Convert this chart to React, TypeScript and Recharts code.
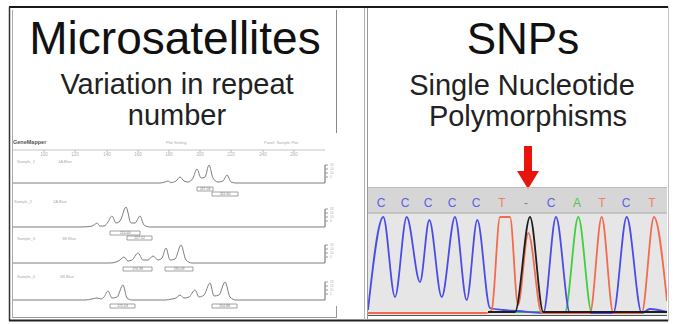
import React from 'react';
import { LineChart, Line, XAxis, YAxis, ReferenceArea, ReferenceLine, ReferenceDot } from 'recharts';

const FONT = '"Liberation Sans", Arial, sans-serif';

// ---------- Microsatellites (electropherogram traces) ----------
// x: scan position along the sizing axis, y: signal height
const sizeTicks = [31, 62, 94, 125, 156, 187, 218, 250, 281];
const sizeTickLabels = ['100', '120', '140', '160', '180', '200', '220', '240', '260'];

const trace1Pts = [
  [0, 0], [147, 0], [152, 1], [155, 2], [158, 0.5], [163, 2], [167, 6], [171, 2], [175, 1], [180, 5],
  [184, 14], [188, 5], [192, 6], [196, 18], [200, 5], [205, 1], [210, 2], [214, 8], [218, 1], [223, 0], [312, 0],
];
const trace2Pts = [
  [0, 0], [67, 0], [77, 0.5], [81, 2], [84, 4], [87, 1], [91, 1], [95, 5], [99, 11], [103, 4], [107, 6],
  [113, 20], [118, 4], [122, 4], [127, 11], [131, 2], [137, 0], [312, 0],
];
const trace3Pts = [
  [0, 0], [97, 0], [103, 1], [107, 3], [111, 6], [115, 2], [119, 3], [125, 10], [130, 3], [135, 3], [140, 7],
  [145, 3], [149, 5], [153, 15], [157, 3], [162, 4], [168, 18], [173, 3], [179, 0], [312, 0],
];
const trace4Pts = [
  [0, 0], [72, 0], [79, 1], [84, 2], [88, 1], [91, 3], [95, 9], [99, 2], [104, 3], [110, 15], [114, 2], [119, 0],
  [152, 0], [159, 1], [163, 2], [167, 5], [171, 2], [176, 3], [182, 10], [186, 3], [191, 5], [197, 17], [201, 4],
  [206, 5], [212, 18], [217, 3], [223, 0], [312, 0],
];

const alleles1 = [
  { x1: 184, x2: 200, row: 0, label: '237.58' },
  { x1: 199, x2: 225, row: 1, label: '241.60' },
];
const alleles2 = [
  { x1: 97, x2: 127, row: 0, label: '213.40' },
  { x1: 114, x2: 139, row: 1, label: '217.52' },
];
const alleles3 = [
  { x1: 110, x2: 139, row: 0, label: '176.98' },
  { x1: 152, x2: 180, row: 0, label: '190.09' },
];
const alleles4 = [
  { x1: 97, x2: 122, row: 0, label: '172.03' },
  { x1: 199, x2: 224, row: 0, label: '254.88' },
];

// ---------- SNPs (sequencing chromatogram) ----------
const baseCalls = ['C', 'C', 'C', 'C', 'C', 'T', '-', 'C', 'A', 'T', 'C', 'T'];
const callPositions = [13, 37, 60, 84, 108, 134, 158, 183, 209, 234, 258, 284];
const snpPosition = 160;

const bluePts = [
  [0, 3], [15.3, 96], [27, 16], [38.7, 96], [52, 31], [61.3, 93], [73.7, 16], [87, 96], [98.7, 13], [109.3, 93],
  [122, 5], [135, 3], [150, 2], [175.3, 0], [188, 96], [202, 0], [245.3, 0], [258.7, 96], [273.7, 0], [282, 4], [299, 1],
];
const orangePts = [
  [0, 0], [118, 0], [123.7, 3], [132, 96], [142, 96], [150, 8], [160.3, 80], [173.7, 0], [222, 0],
  [233.7, 96], [245.3, 0], [273.7, 0], [286, 96], [299, 12],
];
const blackPts = [[120, 1], [147, 1], [162, 96], [175.3, 1], [299, 1]];
const greenPts = [[120, 1], [197, 1], [210.3, 96], [223.7, 1], [299, 1]];

const BASE_COLORS: Record<string, string> = { C: '#6060e8', T: '#f08060', A: '#4cc84c', '-': '#808080' };

const toRows = (pts: number[][]) => pts.map(([x, y]) => ({ x, y }));

function Trace({ pts, alleles, top }: { pts: number[][]; alleles: any[]; top: number }) {
  return (
    <div style={{ position: 'absolute', left: 13, top }}>
      <LineChart width={324} height={34} data={toRows(pts)} margin={{ top: 0, right: 0, bottom: 0, left: 0 }}>
        <XAxis type="number" dataKey="x" domain={[0, 312]} hide />
        <YAxis
          orientation="right"
          type="number"
          domain={[-14, 20]}
          ticks={[6, 10, 14, 18]}
          interval={0}
          width={12}
          axisLine={false}
          tickSize={3}
          tickLine={{ stroke: '#999' }}
          tick={{ fontSize: 3, fill: '#aaa' }}
        />
        <ReferenceLine segment={[{ x: 312, y: 0 }, { x: 312, y: 18 }]} stroke="#666" />
        {alleles.map((a, i) => (
          <ReferenceArea
            key={i}
            x1={a.x1}
            x2={a.x2}
            y1={a.row === 0 ? -4 : -9}
            y2={a.row === 0 ? -8 : -13}
            fill="#ffffff"
            fillOpacity={1}
            stroke="#8a8a8a"
            strokeWidth={0.8}
            label={{ value: a.label, fontSize: 3.5, fill: '#777' }}
          />
        ))}
        <Line type="monotone" dataKey="y" stroke="#7d7d7d" strokeWidth={1} dot={false} isAnimationActive={false} />
      </LineChart>
    </div>
  );
}

const BaseTick = (props: any) => {
  const { x, y, index } = props;
  const b = baseCalls[index];
  return (
    <text x={x} y={y} textAnchor="middle" fontSize={12} fontFamily={FONT} fill={BASE_COLORS[b]}>
      {b}
    </text>
  );
};

const Arrow = (props: any) => {
  const { cx, cy } = props;
  const d = `M${cx - 4},${cy - 67} H${cx + 4} V${cy - 42} H${cx + 11} L${cx},${cy - 24} L${cx - 11},${cy - 42} H${cx - 4} Z`;
  return <path d={d} fill="#e8150d" />;
};

export default function App() {
  return (
    <div style={{ position: 'absolute', left: 0, top: 0, width: 676, height: 324, background: '#fff', overflow: 'hidden', fontFamily: FONT }}>
      {/* chromatogram backgrounds */}
      <div style={{ position: 'absolute', left: 368, top: 187, width: 299, height: 26, background: '#d6d6d6' }} />
      <div style={{ position: 'absolute', left: 368, top: 213, width: 299, height: 103, background: '#e6e6e6' }} />

      {/* header sizing axis of electropherogram */}
      <div style={{ position: 'absolute', left: 13, top: 138 }}>
        <LineChart width={324} height={21} data={toRows(trace1Pts)} margin={{ top: 0, right: 12, bottom: 0, left: 0 }}>
          <XAxis
            type="number"
            dataKey="x"
            domain={[0, 312]}
            ticks={sizeTicks}
            interval={0}
            tickFormatter={(v: number) => sizeTickLabels[sizeTicks.indexOf(v)]}
            height={9}
            tickSize={2}
            tickMargin={1}
            tick={{ fontSize: 4.5, fill: '#b0b0b0' }}
            axisLine={{ stroke: '#c4c4c4' }}
            tickLine={{ stroke: '#bbb' }}
          />
          <YAxis hide domain={[0, 1]} />
        </LineChart>
      </div>

      <Trace pts={trace1Pts} alleles={alleles1} top={163} />
      <Trace pts={trace2Pts} alleles={alleles2} top={207} />
      <Trace pts={trace3Pts} alleles={alleles3} top={243} />
      <Trace pts={trace4Pts} alleles={alleles4} top={280} />

      {/* chromatogram */}
      <div style={{ position: 'absolute', left: 368, top: 140 }}>
        <LineChart width={299} height={175} margin={{ top: 48, right: 0, bottom: 2, left: 0 }}>
          <XAxis
            type="number"
            dataKey="x"
            domain={[0, 299]}
            orientation="top"
            height={25}
            ticks={callPositions}
            interval={0}
            tick={<BaseTick />}
            tickLine={false}
            tickSize={4}
            axisLine={{ stroke: '#a8a8a8' }}
          />
          <YAxis type="number" domain={[0, 100]} hide />
          <Line data={toRows(greenPts)} type="monotone" dataKey="y" stroke="#3fcf3f" strokeWidth={1.8} dot={false} isAnimationActive={false} />
          <Line data={toRows(bluePts)} type="monotone" dataKey="y" stroke="#4b4bea" strokeWidth={1.8} dot={false} isAnimationActive={false} />
          <Line data={toRows(orangePts)} type="monotone" dataKey="y" stroke="#f26b4f" strokeWidth={1.8} dot={false} isAnimationActive={false} />
          <Line data={toRows(blackPts)} type="monotone" dataKey="y" stroke="#1e1e1e" strokeWidth={1.8} dot={false} isAnimationActive={false} />
          <ReferenceDot x={snpPosition} y={100} r={1} ifOverflow="visible" shape={<Arrow />} />
        </LineChart>
      </div>

      {/* frame, titles and small labels */}
      <svg width={676} height={324} style={{ position: 'absolute', left: 0, top: 0, pointerEvents: 'none' }}>
        <line x1={9} y1={7} x2={668} y2={7} stroke="#1a1a1a" strokeWidth={2} />
        <line x1={9.5} y1={7} x2={9.5} y2={321} stroke="#333" strokeWidth={1.5} />
        <line x1={12.5} y1={10} x2={12.5} y2={318} stroke="#aaa" strokeWidth={1} />
        <line x1={9} y1={320.5} x2={668} y2={320.5} stroke="#222" strokeWidth={2} />
        <line x1={668.5} y1={7} x2={668.5} y2={321} stroke="#c4c4c4" strokeWidth={1} />
        <line x1={336.5} y1={10} x2={336.5} y2={133} stroke="#888" strokeWidth={1} />
        <line x1={336.5} y1={306} x2={336.5} y2={318} stroke="#999" strokeWidth={1} />
        <line x1={12} y1={317.5} x2={337} y2={317.5} stroke="#999" strokeWidth={1} />
        <line x1={364.5} y1={8} x2={364.5} y2={320} stroke="#b0b0b0" strokeWidth={1} />
        <line x1={367.5} y1={8} x2={367.5} y2={320} stroke="#9a9a9a" strokeWidth={1} />
        <line x1={368} y1={187.5} x2={667} y2={187.5} stroke="#bdbdbd" strokeWidth={1} />
        <line x1={368} y1={315.5} x2={667} y2={315.5} stroke="#555" strokeWidth={1.2} />

        <text x={175} y={54} textAnchor="middle" fontSize={46} fontFamily={FONT} fill="#111">Microsatellites</text>
        <text x={177} y={94} textAnchor="middle" fontSize={29} fontFamily={FONT} fill="#222">Variation in repeat</text>
        <text x={177} y={125} textAnchor="middle" fontSize={29} fontFamily={FONT} fill="#222">number</text>
        <text x={523} y={54} textAnchor="middle" fontSize={44} fontFamily={FONT} fill="#111">SNPs</text>
        <text x={522} y={95} textAnchor="middle" fontSize={29} fontFamily={FONT} fill="#222">Single Nucleotide</text>
        <text x={528} y={126} textAnchor="middle" fontSize={29} fontFamily={FONT} fill="#222">Polymorphisms</text>

        <text x={13} y={144} fontSize={5.5} fontWeight="bold" fontFamily={FONT} fill="#555">GeneMapper</text>
        <text x={166} y={144} fontSize={4} fontFamily={FONT} fill="#aaa">Plot Setting</text>
        <text x={264} y={144} fontSize={4} fontFamily={FONT} fill="#aaa">Panel: Sample Plot</text>
        <text x={17} y={163} fontSize={4} fontFamily={FONT} fill="#aaa">Sample_1</text>
        <text x={58} y={163} fontSize={4} fontFamily={FONT} fill="#aaa">1A Blue</text>
        <text x={14} y={203} fontSize={4} fontFamily={FONT} fill="#aaa">Sample_2</text>
        <text x={53} y={203} fontSize={4} fontFamily={FONT} fill="#aaa">2A Blue</text>
        <text x={17} y={240} fontSize={4} fontFamily={FONT} fill="#aaa">Sample_3</text>
        <text x={62} y={240} fontSize={4} fontFamily={FONT} fill="#aaa">3B Blue</text>
        <text x={17} y={278} fontSize={4} fontFamily={FONT} fill="#aaa">Sample_4</text>
        <text x={60} y={278} fontSize={4} fontFamily={FONT} fill="#aaa">4B Blue</text>
      </svg>
    </div>
  );
}
